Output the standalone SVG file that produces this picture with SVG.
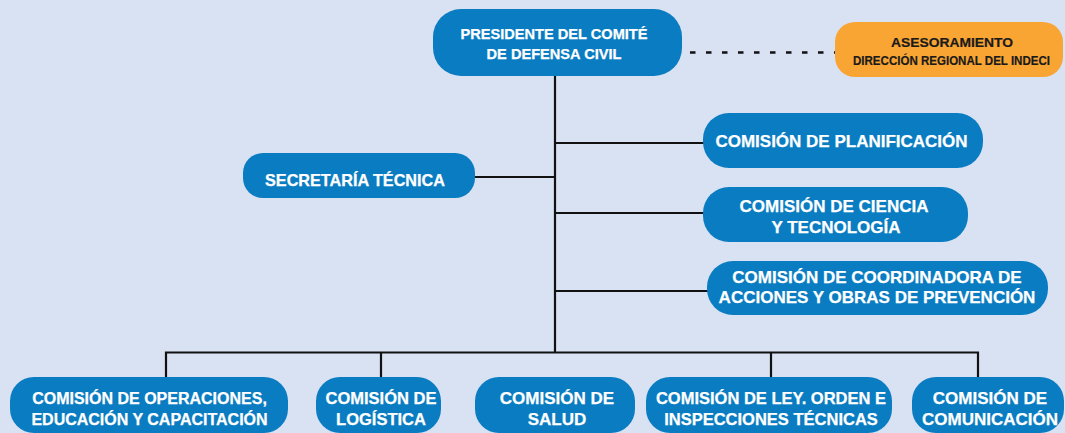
<svg xmlns="http://www.w3.org/2000/svg" width="1065" height="433" viewBox="0 0 1065 433">
<style>
.bg{fill:#D9E2F3}
.box{fill:#0A7CC1}
.org{fill:#F9A533}
.t{font-family:"Liberation Sans",Arial,sans-serif;font-weight:bold;fill:#FFFFFF;text-anchor:middle;stroke:#FFFFFF;stroke-width:0.25}
.tk{font-family:"Liberation Sans",Arial,sans-serif;font-weight:bold;fill:#1A1A1A;text-anchor:middle;stroke:#1A1A1A;stroke-width:0.2}
.ln{stroke:#111111;stroke-width:2.2;fill:none}
.dash{stroke:#111111;stroke-width:2.4;stroke-dasharray:5.5 10.5;fill:none}
</style>
<rect class="bg" x="0" y="0" width="1065" height="433"/>
<g id="connectors">
<path class="ln" d="M555 76 V352.5"/>
<path class="ln" d="M166 378 V352.5 H978 V378"/>
<path class="ln" d="M381 352.5 V378"/>
<path class="ln" d="M771 352.5 V378"/>
<path class="ln" d="M475 177 H555"/>
<path class="ln" d="M555 143 H704"/>
<path class="ln" d="M555 213 H704"/>
<path class="ln" d="M555 291 H708"/>
<path class="dash" d="M690 52.5 H836"/>
</g>
<g id="presidente">
<rect class="box" x="433" y="9" width="249" height="67" rx="28"/>
<text class="t" x="554" y="38.5" font-size="14.6">PRESIDENTE DEL COMITÉ</text>
<text class="t" x="554" y="58.5" font-size="14.6">DE DEFENSA CIVIL</text>
</g>
<g id="asesoramiento">
<rect class="org" x="835" y="22" width="228" height="55" rx="20"/>
<text class="tk" x="952" y="47" font-size="13.5" textLength="122" lengthAdjust="spacingAndGlyphs">ASESORAMIENTO</text>
<text class="tk" x="951.5" y="65" font-size="12" textLength="197" lengthAdjust="spacingAndGlyphs">DIRECCIÓN REGIONAL DEL INDECI</text>
</g>
<g id="secretaria">
<rect class="box" x="243" y="153" width="232" height="45" rx="20"/>
<text class="t" x="355" y="186" font-size="16.2">SECRETARÍA TÉCNICA</text>
</g>
<g id="planificacion">
<rect class="box" x="703" y="113" width="280" height="55" rx="26"/>
<text class="t" x="841.5" y="147" font-size="17">COMISIÓN DE PLANIFICACIÓN</text>
</g>
<g id="ciencia">
<rect class="box" x="703" y="187" width="265" height="55" rx="26"/>
<text class="t" x="834" y="212" font-size="17">COMISIÓN DE CIENCIA</text>
<text class="t" x="836" y="233" font-size="17">Y TECNOLOGÍA</text>
</g>
<g id="coordinadora">
<rect class="box" x="707" y="261" width="341" height="54" rx="26"/>
<text class="t" x="877" y="283" font-size="17">COMISIÓN DE COORDINADORA DE</text>
<text class="t" x="877" y="303" font-size="17">ACCIONES Y OBRAS DE PREVENCIÓN</text>
</g>
<g id="operaciones">
<rect class="box" x="10" y="377" width="278" height="56" rx="24"/>
<text class="t" x="149.5" y="404" font-size="16">COMISIÓN DE OPERACIONES,</text>
<text class="t" x="149.5" y="424.5" font-size="16">EDUCACIÓN Y CAPACITACIÓN</text>
</g>
<g id="logistica">
<rect class="box" x="316" y="377" width="125" height="56" rx="24"/>
<text class="t" x="381" y="404" font-size="16.5">COMISIÓN DE</text>
<text class="t" x="381" y="424.5" font-size="16.5">LOGÍSTICA</text>
</g>
<g id="salud">
<rect class="box" x="475" y="377" width="160" height="56" rx="24"/>
<text class="t" x="557" y="404" font-size="17">COMISIÓN DE</text>
<text class="t" x="557" y="424.5" font-size="17">SALUD</text>
</g>
<g id="ley">
<rect class="box" x="646" y="377" width="246" height="56" rx="24"/>
<text class="t" x="771" y="404" font-size="16.5">COMISIÓN DE LEY. ORDEN E</text>
<text class="t" x="771" y="424.5" font-size="16.5">INSPECCIONES TÉCNICAS</text>
</g>
<g id="comunicacion">
<rect class="box" x="912" y="377" width="152" height="56" rx="24"/>
<text class="t" x="990" y="404" font-size="17">COMISIÓN DE</text>
<text class="t" x="990" y="424.5" font-size="17">COMUNICACIÓN</text>
</g>
</svg>
